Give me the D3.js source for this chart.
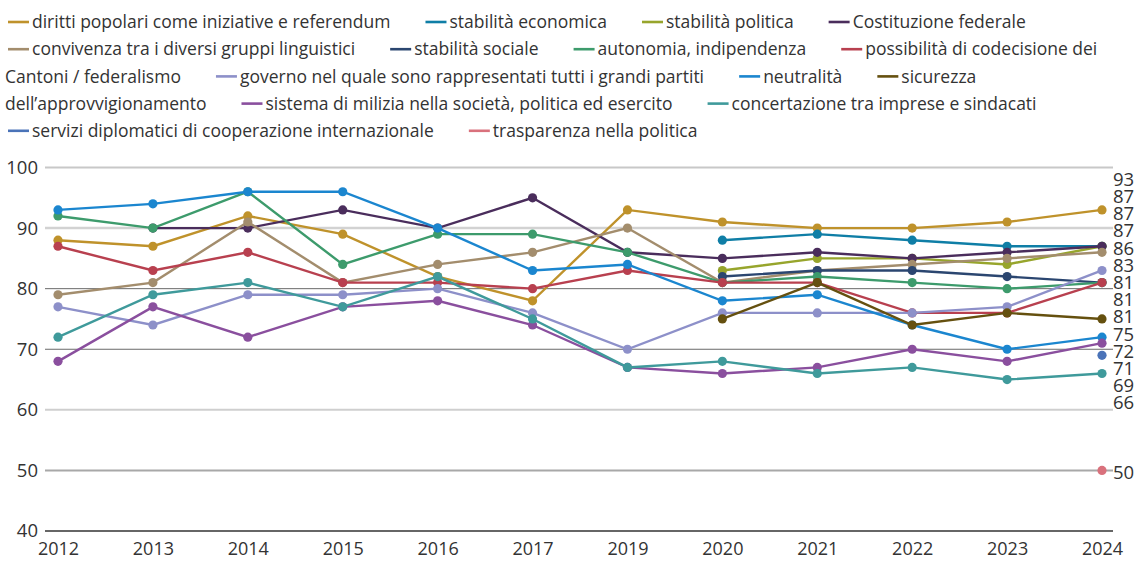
<!DOCTYPE html>
<html>
<head>
<meta charset="utf-8">
<script src="https://cdn.jsdelivr.net/npm/d3@7"></script>
<style>
body { margin:0; background:#fff; }
svg text { font-family:"Open Sans", sans-serif; fill:#333; }
</style>
</head>
<body>
<svg id="chart" width="1136" height="561"></svg>
<script>
// years on the x axis (2018 missing in the survey)
var years = ["2012","2013","2014","2015","2016","2017","2019","2020","2021","2022","2023","2024"];

var diritti      = [88, 87, 92, 89, 82, 78, 93, 91, 90, 90, 91, 93];
var stabEcon     = [null, null, null, null, null, null, null, 88, 89, 88, 87, 87];
var stabPol      = [null, null, null, null, null, null, null, 83, 85, 85, 84, 87];
var costituzione = [null, 90, 90, 93, 90, 95, 86, 85, 86, 85, 86, 87];
var convivenza   = [79, 81, 91, 81, 84, 86, 90, 81, 83, 84, 85, 86];
var stabSoc      = [null, null, null, null, null, null, null, 82, 83, 83, 82, 81];
var autonomia    = [92, 90, 96, 84, 89, 89, 86, 81, 82, 81, 80, 81];
var codecisione  = [87, 83, 86, 81, 81, 80, 83, 81, 81, 76, 76, 81];
var governo      = [77, 74, 79, 79, 80, 76, 70, 76, 76, 76, 77, 83];
var neutralita   = [93, 94, 96, 96, 90, 83, 84, 78, 79, 74, 70, 72];
var sicurezza    = [null, null, null, null, null, null, null, 75, 81, 74, 76, 75];
var milizia      = [68, 77, 72, 77, 78, 74, 67, 66, 67, 70, 68, 71];
var concertazione= [72, 79, 81, 77, 82, 75, 67, 68, 66, 67, 65, 66];
var servizi      = [null, null, null, null, null, null, null, null, null, null, null, 69];
var trasparenza  = [null, null, null, null, null, null, null, null, null, null, null, 50];

var names = [
  "diritti popolari come iniziative e referendum",
  "stabilità economica",
  "stabilità politica",
  "Costituzione federale",
  "convivenza tra i diversi gruppi linguistici",
  "stabilità sociale",
  "autonomia, indipendenza",
  "possibilità di codecisione dei Cantoni / federalismo",
  "governo nel quale sono rappresentati tutti i grandi partiti",
  "neutralità",
  "sicurezza dell’approvvigionamento",
  "sistema di milizia nella società, politica ed esercito",
  "concertazione tra imprese e sindacati",
  "servizi diplomatici di cooperazione internazionale",
  "trasparenza nella politica"
];
var values = [diritti, stabEcon, stabPol, costituzione, convivenza, stabSoc, autonomia,
  codecisione, governo, neutralita, sicurezza, milizia, concertazione, servizi, trasparenza];

var colors = ["#bf922b", "#0f7ea6", "#97a52c", "#4a2d5c", "#a38d6d", "#2b4670", "#3d9b6c",
  "#b8404f", "#8d90c9", "#1b86cf", "#65500f", "#8a4f9e", "#3f9a9b", "#4a73b8", "#d9717c"];

var yTicks = [40, 50, 60, 70, 80, 90, 100];

var series = names.map(function(n, i){ return {name:n, color:colors[i], vals:values[i]}; });

var svg = d3.select("#chart");

// ---- legend: flowing rows, long names wrap onto the next row like in the original
var legFont = 17.5, rowH = 27.2, legLeft = 5, legRight = 1098, itemGap = 32;
var legend = svg.append("g").attr("class", "legend");
var probe = legend.append("text").attr("font-size", legFont).attr("opacity", 0);
function textW(s){ probe.text(s); return probe.node().getComputedTextLength(); }
var spaceW = textW("a b") - textW("ab");

var cx = legLeft, row = 0;
function rowY(r){ return 22 + r*rowH; }
function flush(words, x0, r){
  legend.append("text").attr("x", x0).attr("y", rowY(r)).attr("dy", "0.35em")
    .attr("font-size", legFont).text(words.join(" "));
}
series.forEach(function(s){
  var words = s.name.split(" ");
  if(cx + 26 + textW(words[0]) > legRight){ row++; cx = legLeft; }
  legend.append("line").attr("x1", cx + 3).attr("x2", cx + 24)
    .attr("y1", rowY(row)).attr("y2", rowY(row))
    .attr("stroke", s.color).attr("stroke-width", 2.6);
  cx += 27;
  var frag = [], fragX = cx;
  words.forEach(function(w){
    var ww = textW(w) + (frag.length ? spaceW : 0);
    if(frag.length && cx + ww > legRight){
      flush(frag, fragX, row);
      row++; cx = legLeft; fragX = cx; frag = [];
      ww = textW(w);
    }
    frag.push(w); cx += ww;
  });
  flush(frag, fragX, row);
  cx += itemGap;
});
probe.remove();

// ---- plot
var x = d3.scalePoint().domain(years).range([58, 1102]);
var y = d3.scaleLinear().domain([40, 100]).range([531, 167.5]);

// gridlines
var gridCol = {40:"#333", 50:"#a8a8a8", 60:"#cfcfcf", 70:"#6a6a6a", 80:"#6a6a6a", 90:"#d2d2d2", 100:"#c8c8c8"};
var gridW = {40:1.5, 50:2, 60:2, 70:1, 80:1, 90:2.5, 100:2};
svg.append("g").selectAll("line").data(yTicks).join("line")
  .attr("x1", 45).attr("x2", 1113)
  .attr("y1", function(d){ return y(d); }).attr("y2", function(d){ return y(d); })
  .attr("stroke", function(d){ return gridCol[d]; })
  .attr("stroke-width", function(d){ return gridW[d]; });

var yAxis = svg.append("g").attr("transform", "translate(38,0)")
  .call(d3.axisLeft(y).tickValues(yTicks).tickSize(0).tickPadding(0));
yAxis.select(".domain").remove();
yAxis.selectAll("text").attr("font-size", 18.5).attr("font-family", null);

var xAxis = svg.append("g").attr("transform", "translate(0,542)")
  .call(d3.axisBottom(x).tickSize(0).tickPadding(0));
xAxis.select(".domain").remove();
xAxis.selectAll("text").attr("font-size", 18).attr("font-family", null);

var line = d3.line()
  .defined(function(d){ return d != null; })
  .x(function(d, i){ return x(years[i]); })
  .y(function(d){ return y(d); });

var g = svg.append("g");
series.forEach(function(s){
  g.append("path").attr("d", line(s.vals))
    .attr("fill", "none").attr("stroke", s.color).attr("stroke-width", 2.4);
  g.selectAll(null).data(s.vals.map(function(v, i){ return {v:v, i:i}; }).filter(function(d){ return d.v != null; }))
    .join("circle")
    .attr("cx", function(d){ return x(years[d.i]); })
    .attr("cy", function(d){ return y(d.v); })
    .attr("r", 4.6).attr("fill", s.color);
});

// end labels, spread so they don't collide
var labs = series.map(function(s, i){ var v = s.vals[s.vals.length-1]; return {v:v, y0:y(v), i:i}; });
labs.sort(function(a, b){ return b.v - a.v || a.i - b.i; });
var gap = 17.2;
var blocks = labs.map(function(l){ return {items:[l]}; });
function placeBlock(b){
  var c = d3.mean(b.items, function(l){ return l.y0; });
  var top = c - (b.items.length-1)*gap/2;
  b.items.forEach(function(l, k){ l.y = top + k*gap; });
}
blocks.forEach(placeBlock);
var merged = true;
while(merged){
  merged = false;
  for(var k = 0; k < blocks.length-1; k++){
    var a = blocks[k], b = blocks[k+1];
    if(a.items[a.items.length-1].y + gap > b.items[0].y){
      a.items = a.items.concat(b.items);
      blocks.splice(k+1, 1);
      placeBlock(a);
      merged = true;
      break;
    }
  }
}
svg.append("g").selectAll("text").data(labs).join("text")
  .attr("x", 1113).attr("y", function(d){ return d.y + 2; })
  .attr("dy", "0.35em")
  .attr("font-size", 18.5)
  .text(function(d){ return d.v; });
</script>
</body>
</html>
